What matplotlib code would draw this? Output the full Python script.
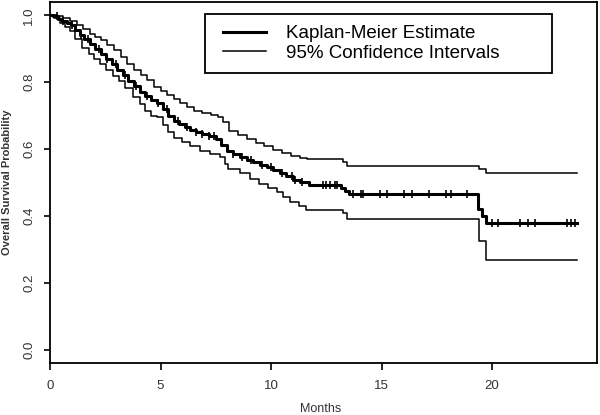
import numpy as np
import matplotlib
matplotlib.use("Agg")
import matplotlib.pyplot as plt
from matplotlib.lines import Line2D
from matplotlib.legend_handler import HandlerLine2D

plt.rcParams['font.family'] = ['Liberation Sans', 'DejaVu Sans']

# Kaplan-Meier estimate (step times in months, survival after each step)
km_time = [0.0, 0.15, 0.35, 0.55, 0.75, 0.95, 1.15, 1.35, 1.55, 1.8, 2.05, 2.3,
           2.55, 2.8, 3.05, 3.3, 3.55, 3.8, 4.05, 4.3, 4.55, 4.85, 5.1, 5.35,
           5.6, 5.85, 6.1, 6.35, 6.6, 6.9, 7.2, 7.5, 7.75, 8.0, 8.3, 8.6, 8.9,
           9.2, 9.5, 9.8, 10.1, 10.4, 10.7, 11.0, 11.3, 11.7, 13.15, 13.35,
           13.55, 19.37, 19.55, 19.72, 23.85]
km_surv = [1.000, 0.997, 0.990, 0.984, 0.978, 0.970, 0.955, 0.940, 0.928, 0.915,
           0.900, 0.885, 0.870, 0.855, 0.838, 0.822, 0.805, 0.788, 0.770, 0.758,
           0.748, 0.737, 0.720, 0.700, 0.683, 0.675, 0.667, 0.658, 0.652, 0.645,
           0.638, 0.630, 0.612, 0.593, 0.585, 0.577, 0.568, 0.561, 0.553, 0.545,
           0.536, 0.527, 0.518, 0.508, 0.500, 0.494, 0.485, 0.475, 0.466, 0.422,
           0.400, 0.380, 0.380]

# upper 95% confidence bound
up_time = [0.0, 0.3, 0.6, 0.9, 1.2, 1.5, 1.8, 2.05, 2.3, 2.6, 2.9, 3.2, 3.5,
           3.8, 4.1, 4.4, 4.7, 5.0, 5.3, 5.6, 5.9, 6.2, 6.5, 6.9, 7.3, 7.6,
           7.85, 8.1, 8.5, 8.9, 9.3, 9.7, 10.1, 10.5, 10.9, 11.3, 11.65, 13.25,
           13.45, 19.4, 19.75, 23.85]
up_surv = [1.000, 0.998, 0.992, 0.982, 0.970, 0.958, 0.945, 0.936, 0.926, 0.912,
           0.895, 0.875, 0.855, 0.838, 0.822, 0.808, 0.787, 0.775, 0.762, 0.750,
           0.738, 0.725, 0.714, 0.708, 0.702, 0.697, 0.680, 0.655, 0.642, 0.630,
           0.619, 0.608, 0.597, 0.587, 0.580, 0.573, 0.569, 0.560, 0.548, 0.541,
           0.527, 0.527]

# lower 95% confidence bound
lo_time = [0.0, 0.2, 0.45, 0.7, 0.9, 1.15, 1.45, 1.75, 2.0, 2.25, 2.55, 2.85,
           3.1, 3.4, 3.75, 4.05, 4.3, 4.55, 4.85, 5.1, 5.35, 5.6, 5.95, 6.35,
           6.8, 7.25, 7.7, 7.9, 8.05, 8.6, 9.05, 9.45, 9.85, 10.25, 10.55,
           10.85, 11.25, 11.6, 13.25, 13.45, 19.4, 19.75, 23.85]
lo_surv = [1.000, 0.992, 0.978, 0.964, 0.952, 0.930, 0.903, 0.885, 0.868, 0.856,
           0.838, 0.820, 0.804, 0.782, 0.757, 0.735, 0.715, 0.698, 0.695, 0.672,
           0.650, 0.632, 0.620, 0.608, 0.595, 0.585, 0.577, 0.555, 0.540, 0.527,
           0.509, 0.497, 0.485, 0.473, 0.458, 0.443, 0.430, 0.419, 0.410, 0.392,
           0.326, 0.269, 0.269]

# censored observations (months)
censor_time = [0.3, 0.6, 1.0, 1.4, 1.7, 2.2, 2.6, 3.0, 3.4, 3.9, 4.4, 4.9, 5.3,
               5.8, 6.2, 6.6, 6.9, 7.2, 7.4, 8.3, 8.7, 9.1, 9.6, 10.0, 10.5,
               10.95, 11.1, 11.4, 12.35, 12.5, 12.67, 12.9, 13.0, 13.7, 14.07,
               14.16, 14.93, 15.25, 16.0, 16.4, 17.15, 17.9, 18.14, 18.87, 20.0,
               20.27, 21.27, 21.63, 21.95, 23.4, 23.57, 23.76]

x_ticks = [0, 5, 10, 15, 20]
y_ticks = [0.0, 0.2, 0.4, 0.6, 0.8, 1.0]

fig = plt.figure(figsize=(6, 4.15), dpi=100)
ax = fig.add_axes([50/600, 1-363/415, 547/600, 361/415])

ax.plot(km_time, km_surv, drawstyle='steps-post', color='black', lw=2.2,
        label='Kaplan-Meier Estimate')
ax.plot(up_time, up_surv, drawstyle='steps-post', color='black', lw=1.1,
        label='95% Confidence Intervals')
ax.plot(lo_time, lo_surv, drawstyle='steps-post', color='black', lw=1.1)

# censor marks sit on the KM step
km_t = np.array(km_time)
km_s = np.array(km_surv)
idx = np.searchsorted(km_t, censor_time, side='right') - 1
ax.plot(censor_time, km_s[idx], ls='none', marker='|', color='black',
        ms=6, mew=1.2)

ax.set_xlim(0, 24.75)
ax.set_ylim(-0.04, 1.04)
ax.set_xticks(x_ticks)
ax.set_yticks(y_ticks)
ax.set_yticklabels([f'{v:.1f}' for v in y_ticks], rotation=90, va='center')
ax.tick_params(axis='both', direction='out', width=1.2, labelsize=9.5,
               labelcolor='#333333')
ax.tick_params(axis='x', length=5, pad=7)
ax.tick_params(axis='y', length=4.5, pad=6)
for sp in ax.spines.values():
    sp.set_linewidth(1.3)

ax.set_xlabel('Months', fontsize=9, color='#333333')
ax.xaxis.set_label_coords(0.495, -0.11)
ax.set_ylabel('Overall Survival Probability', fontsize=8, fontweight='bold',
              color='#333333')
ax.yaxis.set_label_coords(-0.07, 0.5)

leg = ax.legend(loc='upper left', bbox_to_anchor=(0.283, 0.809, 0.634, 0.158),
                mode='expand', fontsize=13.5, frameon=True, fancybox=False,
                edgecolor='black', framealpha=1, handlelength=2.67,
                handletextpad=1.07, labelspacing=0.12, borderpad=0.6,
                borderaxespad=0,
                handler_map={Line2D: HandlerLine2D(xpad=0.38)})
leg.get_frame().set_linewidth(1.3)

fig.savefig('out.png', dpi=100)
